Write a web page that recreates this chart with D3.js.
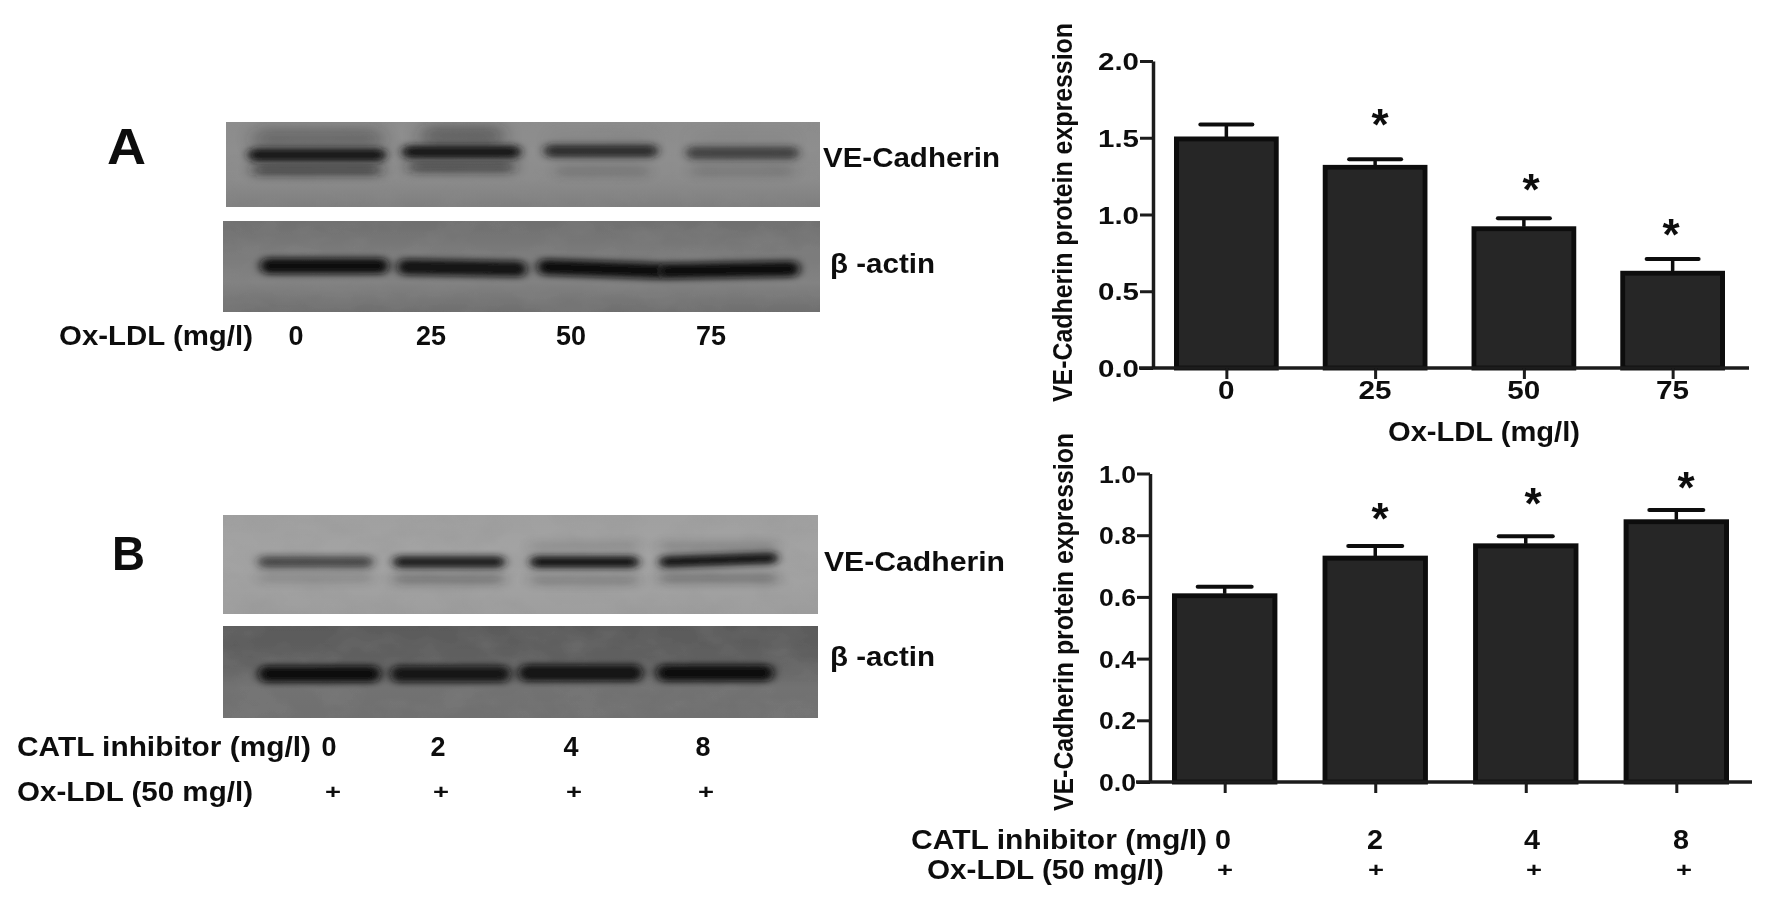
<!DOCTYPE html>
<html><head><meta charset="utf-8">
<script src="https://cdn.jsdelivr.net/npm/d3@7/dist/d3.min.js"></script>
<style>
html,body{margin:0;padding:0;background:#fff;overflow:hidden}
text{font-family:"Liberation Sans",Arial,sans-serif;font-weight:700;fill:#111}
</style></head><body>
<svg id="c" width="1772" height="905"></svg>
<script>
// ---- data ----
const oxDoses = ["0","25","50","75"];
const oxMeans = [1.505,1.32,0.92,0.63];
const oxTops  = [1.586,1.36,0.975,0.71];
const oxStars = [false,true,true,true];
const oxTicks = [0,0.5,1.0,1.5,2.0];

const inhDoses = ["0","2","4","8"];
const inhMeans = [0.61,0.732,0.772,0.85];
const inhTops  = [0.633,0.765,0.797,0.882];
const inhStars = [false,true,true,true];
const inhTicks = [0,0.2,0.4,0.6,0.8,1.0];

const plusMarks = ["+","+","+","+"];

// relative band darkness per lane in the blots
const bandA1 = [1.0,1.0,0.8,0.62];
const bandA1low = [0.6,0.55,0.18,0.16];
const bandA1high = [0.3,0.36,0.04,0.04];
const bandA2 = [1.0,0.95,1.0,1.0];
const bandB1 = [0.62,0.95,1.0,1.0];
const bandB1low = [0.16,0.3,0.22,0.3];
const bandB1high = [0,0,0.14,0.2];
const bandB2 = [1.0,0.9,0.95,1.0];

// ---- layout ----
const svg = d3.select("#c");
const defs = svg.append("defs");
function blurF(id,s){
  defs.append("filter").attr("id",id).attr("x","-30%").attr("y","-250%").attr("width","160%").attr("height","600%")
    .append("feGaussianBlur").attr("stdDeviation",s);
}
blurF("b1","5,3.4"); blurF("b2","7,4.5"); blurF("b3","9,7");
defs.append("filter").attr("id","soft").attr("x","-2%").attr("y","-2%").attr("width","104%").attr("height","104%")
  .append("feGaussianBlur").attr("stdDeviation",0.6);
const nf = defs.append("filter").attr("id","mott").attr("x","0").attr("y","0").attr("width","100%").attr("height","100%");
nf.append("feTurbulence").attr("type","fractalNoise").attr("baseFrequency","0.025 0.04").attr("numOctaves",3).attr("seed",7);
nf.append("feColorMatrix").attr("type","matrix").attr("values","0 0 0 0 0.25  0 0 0 0 0.25  0 0 0 0 0.25  1.5 0 0 0 -0.55");

const root = svg.append("g").attr("filter","url(#soft)");

function blot(b){
  const id="clip"+b.id;
  defs.append("clipPath").attr("id",id).append("rect").attr("x",b.x).attr("y",b.y).attr("width",b.w).attr("height",b.h);
  const g=root.append("g").attr("clip-path",`url(#${id})`);
  const grad=defs.append("linearGradient").attr("id","g"+b.id).attr("x1",0).attr("x2",0).attr("y1",0).attr("y2",1);
  b.stops.forEach((c,i)=>grad.append("stop").attr("offset",i/(b.stops.length-1)).attr("stop-color",c));
  g.append("rect").attr("x",b.x).attr("y",b.y).attr("width",b.w).attr("height",b.h).attr("fill",`url(#g${b.id})`);
  g.append("rect").attr("x",b.x).attr("y",b.y).attr("width",b.w).attr("height",b.h).attr("filter","url(#mott)").attr("opacity",b.mott);
  b.rows.forEach(r=>{
    g.selectAll(null).data(r.values).join("rect")
      .attr("x",(d,i)=>r.lanes[i][0]).attr("width",(d,i)=>r.lanes[i][1]-r.lanes[i][0])
      .attr("y",(d,i)=>r.ys[i]-r.t/2).attr("height",r.t).attr("rx",r.t/2)
      .attr("fill",b.ink).attr("opacity",d=>d).attr("filter",`url(#${r.f})`)
      .attr("transform",(d,i)=>r.tilt&&r.tilt[i]?`rotate(${r.tilt[i]} ${(r.lanes[i][0]+r.lanes[i][1])/2} ${r.ys[i]})`:null);
  });
}
const lanesA1=[[248,386],[402,521],[544,658],[686,799]];
const lanesA2=[[260,389],[397,527],[537,664],[657,800]];
const lanesB1=[[258,373],[393,505],[530,639],[659,778]];
const lanesB2=[[258,381],[390,511],[518,643],[656,774]];
blot({id:"A1",x:226,y:122,w:594,h:85,ink:"#141414",mott:.55,stops:["#8d8d8d","#8f8f8f","#8c8c8c","#7e7e7e"],rows:[
  {values:bandA1high,lanes:[[252,384],[420,505],[546,656],[688,797]],ys:[139,136,140,140],t:22,f:"b3"},
  {values:bandA1low,lanes:[[252,382],[408,515],[555,650],[690,795]],ys:[170,167,171,171],t:11,f:"b2"},
  {values:bandA1,lanes:lanesA1,ys:[155,152,151,153],t:13,f:"b1"}
]});
blot({id:"A2",x:223,y:221,w:597,h:91,ink:"#0e0e0e",mott:.4,stops:["#6f6f6f","#7a7a7a","#828282","#6e6e6e"],rows:[
  {values:bandA2,lanes:lanesA2,ys:[266,268,269,270],t:16,f:"b1",tilt:[0,1,2,-1]}
]});
blot({id:"B1",x:223,y:515,w:595,h:99,ink:"#161616",mott:.22,stops:["#a0a0a0","#a3a3a3","#a2a2a2","#9e9e9e"],rows:[
  {values:bandB1high,lanes:lanesB1,ys:[546,546,546,546],t:9,f:"b2"},
  {values:bandB1low,lanes:lanesB1,ys:[578,579,580,578],t:10,f:"b2"},
  {values:bandB1,lanes:lanesB1,ys:[562,562,562,560],t:12,f:"b1",tilt:[0,0,0,-2]}
]});
blot({id:"B2",x:223,y:626,w:595,h:92,ink:"#0c0c0c",mott:.35,stops:["#5a5a5a","#5f5f5f","#727272","#6f6f6f"],rows:[
  {values:bandB2,lanes:lanesB2,ys:[674,674,673,673],t:17,f:"b1"}
]});

function label(s,x,y,len,o={}){
  const t=root.append("text").attr("x",x).attr("y",y).attr("font-size",o.fs||27).text(s)
    .attr("text-anchor",o.anchor||"start");
  if(len) t.attr("textLength",len).attr("lengthAdjust","spacingAndGlyphs");
  if(o.rot) t.attr("transform",`rotate(-90 ${x} ${y})`);
  return t;
}
label("A",107,164,39,{fs:50});
label("B",112,570,33,{fs:49});
label("VE-Cadherin",823,167,177);
label("β -actin",830,273,105);
label("VE-Cadherin",824,571,181);
label("β -actin",830,666,105);
label("Ox-LDL (mg/l)",59,345,194);
oxDoses.forEach((d,i)=>label(d,[296,431,571,711][i],345,d.length*15,{anchor:"middle"}));
label("CATL inhibitor (mg/l)",17,756,294);
inhDoses.forEach((d,i)=>label(d,[329,438,571,703][i],756,15,{anchor:"middle"}));
label("Ox-LDL (50 mg/l)",17,801,236);
plusMarks.forEach((d,i)=>label(d,[333,441,574,706][i],799,16,{anchor:"middle",fs:20}));

function chart(c){
  const y=d3.scaleLinear().domain(c.domain).range([c.y0,c.y1]);
  const x=d3.scaleBand().domain(c.cats).range(c.xr).paddingInner(c.pad).paddingOuter(0);
  const g=root.append("g");
  // error bars
  const cx=i=>x(c.cats[i])+x.bandwidth()/2;
  g.selectAll("line.err").data(c.tops).join("line").attr("class","err")
    .attr("x1",(d,i)=>cx(i)).attr("x2",(d,i)=>cx(i))
    .attr("y1",(d,i)=>y(c.means[i])).attr("y2",d=>y(d)).attr("stroke","#111").attr("stroke-width",3.5);
  g.selectAll("line.cap").data(c.tops).join("line").attr("class","cap")
    .attr("x1",(d,i)=>cx(i)-c.cap).attr("x2",(d,i)=>cx(i)+c.cap)
    .attr("y1",d=>y(d)).attr("y2",d=>y(d)).attr("stroke","#111").attr("stroke-width",4).attr("stroke-linecap","round");
  // bars
  g.selectAll("rect.bar").data(c.means).join("rect").attr("class","bar")
    .attr("x",(d,i)=>x(c.cats[i])+2.5).attr("width",x.bandwidth()-5)
    .attr("y",d=>y(d)+2).attr("height",d=>y(0)-y(d)-2)
    .attr("fill","#282828").attr("stroke","#101010").attr("stroke-width",5);
  // axes
  const ax=g.append("g").attr("transform",`translate(${c.ax},0)`)
    .call(d3.axisLeft(y).tickValues(c.ticks).tickFormat(d3.format(".1f")).tickSize(13).tickSizeOuter(0));
  ax.select(".domain").attr("stroke","#1a1a1a").attr("stroke-width",3.5);
  ax.selectAll(".tick line").attr("stroke","#1a1a1a").attr("stroke-width",3);
  ax.selectAll(".tick text").attr("x",-14).attr("dy",null).attr("dominant-baseline",null)
    .attr("y",8.5).attr("font-size",24).attr("text-anchor","end").attr("textLength",c.tlen).attr("lengthAdjust","spacingAndGlyphs");
  const bx=g.append("g").attr("transform",`translate(0,${c.y0})`)
    .call(d3.axisBottom(d3.scalePoint().domain(c.cats).range([cx(0),cx(3)])).tickSize(11).tickSizeOuter(0).tickFormat(""));
  bx.select(".domain").attr("d",`M${c.ax-14},0H${c.axEnd}`).attr("stroke","#1a1a1a").attr("stroke-width",3.5);
  bx.selectAll(".tick line").attr("stroke","#1a1a1a").attr("stroke-width",3);
  // significance stars
  c.stars.forEach((s,i)=>{ if(s) label("*",c.starX[i],c.starY[i],null,{fs:44,anchor:"middle"}); });
  label(c.title,c.titleX,c.titleY,c.titleLen,{fs:28,rot:true});
  return {x,cx};
}
const c1=chart({cats:oxDoses,means:oxMeans,tops:oxTops,stars:oxStars,ticks:oxTicks,domain:[0,2],
  y0:368,y1:61,xr:[1174,1725],pad:.296,ax:1153,axEnd:1749,cap:26,tlen:41,
  starX:[0,1380,1531,1671],starY:[0,140,205,250],title:"VE-Cadherin protein expression",titleX:1072,titleY:402,titleLen:379});
oxDoses.forEach((d,i)=>label(d,c1.cx(i),399,d.length*16.5,{anchor:"middle",fs:25}));
label("Ox-LDL (mg/l)",1388,441,192);

const c2=chart({cats:inhDoses,means:inhMeans,tops:inhTops,stars:inhStars,ticks:inhTicks,domain:[0,1],
  y0:782,y1:473.5,xr:[1172,1729],pad:.3,ax:1150,axEnd:1752,cap:27,tlen:37,
  starX:[0,1380,1533,1686],starY:[0,534,519,503],title:"VE-Cadherin protein expression",titleX:1073,titleY:811,titleLen:378});
label("CATL inhibitor (mg/l)",911,849,296);
inhDoses.forEach((d,i)=>label(d,[1223,1375,1532,1681][i],849,16,{anchor:"middle"}));
label("Ox-LDL (50 mg/l)",927,879,237);
plusMarks.forEach((d,i)=>label(d,[1225,1376,1534,1684][i],877,16,{anchor:"middle",fs:20}));
</script></body></html>
